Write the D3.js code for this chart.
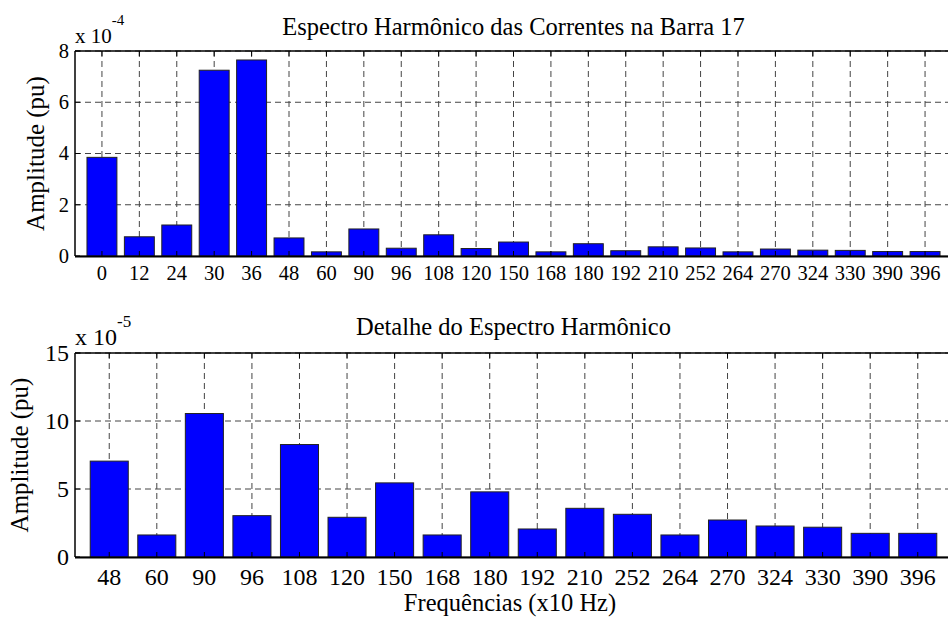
<!DOCTYPE html>
<html><head><meta charset="utf-8">
<script src="https://cdn.jsdelivr.net/npm/d3@7"></script>
<style>
html,body{margin:0;padding:0;background:#fff;overflow:hidden}
</style></head>
<body>
<svg id="c" width="948" height="619" font-family="Liberation Serif"></svg>
<script>
// Top chart data (values in units of 1e-4 pu)
const topCategories = ["0","12","24","30","36","48","60","90","96","108","120","150","168","180","192","210","252","264","270","324","330","390","396"];
const topValues = [3.85,0.75,1.21,7.25,7.65,0.705,0.162,1.055,0.304,0.827,0.292,0.545,0.162,0.479,0.206,0.358,0.314,0.162,0.272,0.228,0.219,0.174,0.174];
const topTicks = [0,2,4,6,8];
const topTitle = "Espectro Harmônico das Correntes na Barra 17";

// Bottom chart data (values in units of 1e-5 pu)
const botCategories = ["48","60","90","96","108","120","150","168","180","192","210","252","264","270","324","330","390","396"];
const botValues = [7.05,1.62,10.55,3.04,8.27,2.92,5.45,1.62,4.79,2.06,3.58,3.14,1.62,2.72,2.28,2.19,1.74,1.74];
const botTicks = [0,5,10,15];
const botTitle = "Detalhe do Espectro Harmônico";
const xLabel = "Frequências (x10 Hz)";
const yLabel = "Amplitude (pu)";

const svg = d3.select("#c");

function panel(cfg){
  const {cats, vals, ticks, ymax, top, bottom, title, titleY, expo, expoY, expoSize, supSize,
         ylabelX, left, right, tickSize, xlabY} = cfg;
  const N = cats.length;
  const x = d3.scaleLinear().domain([0.28, N + 0.72]).range([left, right]);
  const y = d3.scaleLinear().domain([0, ymax]).range([bottom, top]);
  const step = x(2) - x(1);
  const g = svg.append("g");

  g.selectAll(".vg").data(cats).join("line")
    .attr("x1", (d,i)=>x(i+1)).attr("x2", (d,i)=>x(i+1))
    .attr("y1", top).attr("y2", bottom)
    .attr("stroke", "#444").attr("stroke-width", 1).attr("stroke-dasharray", "6,4");
  g.selectAll(".hg").data(ticks.filter(t=>t>0)).join("line")
    .attr("x1", left).attr("x2", right)
    .attr("y1", d=>y(d)).attr("y2", d=>y(d))
    .attr("stroke", "#444").attr("stroke-width", 1).attr("stroke-dasharray", "6,4");

  g.append("line").attr("x1", left).attr("x2", right).attr("y1", y(0)).attr("y2", y(0))
    .attr("stroke", "#777").attr("stroke-width", 1);

  g.selectAll(".bar").data(vals).join("rect")
    .attr("x", (d,i)=>x(i+1) - step*0.4)
    .attr("width", step*0.8)
    .attr("y", d=>y(d))
    .attr("height", d=>y(0)-y(d))
    .attr("fill", "#0000ff").attr("stroke", "#222").attr("stroke-width", 1);

  g.append("line").attr("x1", left).attr("x2", right).attr("y1", top).attr("y2", top)
    .attr("stroke", "#000").attr("stroke-width", 1.5);
  g.append("line").attr("x1", left).attr("x2", right).attr("y1", bottom+0.5).attr("y2", bottom+0.5)
    .attr("stroke", "#000").attr("stroke-width", 2);
  g.append("line").attr("x1", left).attr("x2", left).attr("y1", top).attr("y2", bottom)
    .attr("stroke", "#000").attr("stroke-width", 1.5);

  g.selectAll(".tt").data(cats).join("line")
    .attr("x1", (d,i)=>x(i+1)).attr("x2", (d,i)=>x(i+1))
    .attr("y1", top).attr("y2", top+5).attr("stroke", "#000").attr("stroke-width", 1);
  g.selectAll(".bt").data(cats).join("line")
    .attr("x1", (d,i)=>x(i+1)).attr("x2", (d,i)=>x(i+1))
    .attr("y1", bottom).attr("y2", bottom-5).attr("stroke", "#000").attr("stroke-width", 1);
  g.selectAll(".lt").data(ticks).join("line")
    .attr("x1", left).attr("x2", left+5)
    .attr("y1", d=>y(d)).attr("y2", d=>y(d)).attr("stroke", "#000").attr("stroke-width", 1);

  g.selectAll(".xl").data(cats).join("text")
    .attr("x", (d,i)=>x(i+1)).attr("y", xlabY)
    .attr("text-anchor", "middle").attr("font-size", tickSize).text(d=>d);
  g.selectAll(".yl").data(ticks).join("text")
    .attr("x", left-6).attr("y", d=>y(d)+tickSize*0.33)
    .attr("text-anchor", "end").attr("font-size", tickSize).text(d=>d);

  const ex = g.append("text").attr("x", left).attr("y", expoY).attr("font-size", expoSize);
  ex.append("tspan").text("x 10");
  ex.append("tspan").attr("dy", -18).attr("font-size", supSize).text(expo);

  g.append("text").attr("x", (left+right)/2).attr("y", titleY)
    .attr("text-anchor", "middle").attr("font-size", 24.5).text(title);

  g.append("text").attr("transform", `translate(${ylabelX},${(top+bottom)/2}) rotate(-90)`)
    .attr("text-anchor", "middle").attr("font-size", 25).text(yLabel);
  return {x, y};
}

panel({cats: topCategories, vals: topValues, ticks: topTicks, ymax: 8,
  top: 51, bottom: 256, left: 75, right: 952, title: topTitle, titleY: 35,
  expo: "-4", expoY: 43, expoSize: 21, supSize: 15, ylabelX: 44, tickSize: 20.5, xlabY: 280});

panel({cats: botCategories, vals: botValues, ticks: botTicks, ymax: 15,
  top: 353, bottom: 557, left: 75, right: 952, title: botTitle, titleY: 335,
  expo: "-5", expoY: 345, expoSize: 24, supSize: 17, ylabelX: 28, tickSize: 24, xlabY: 585});

svg.append("text").attr("x", 510).attr("y", 611).attr("text-anchor", "middle")
  .attr("font-size", 24.5).text(xLabel);
</script>
</body></html>
